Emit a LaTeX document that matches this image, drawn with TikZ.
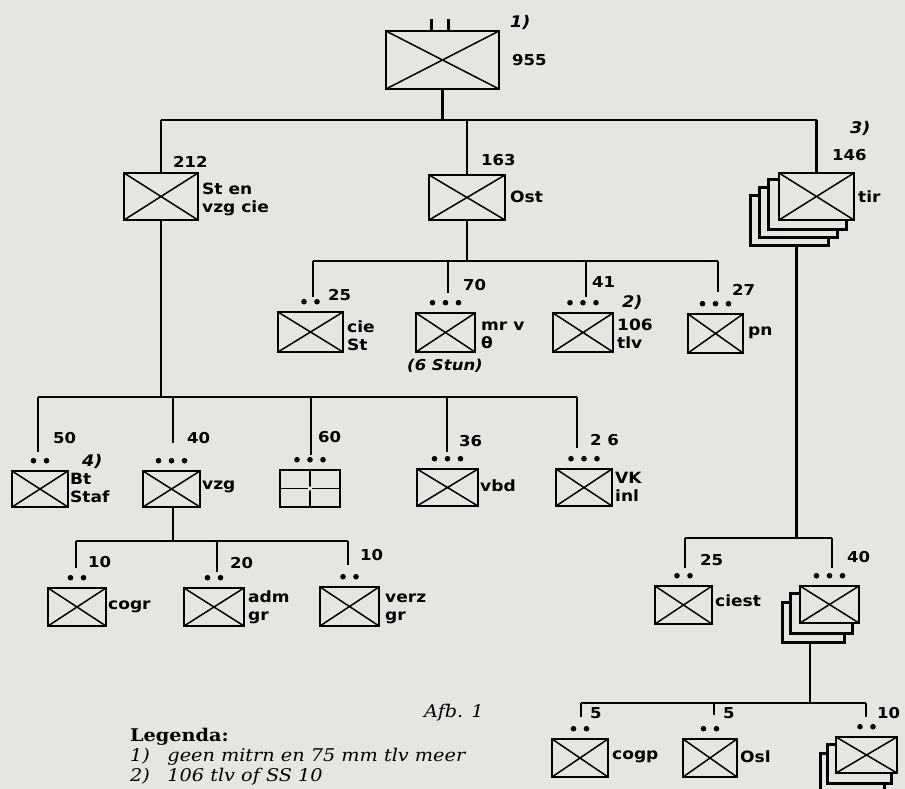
\documentclass[tikz,border=0pt]{standalone}
\usepackage{fontspec}
\newfontfamily\handfont[FakeStretch=1.1]{DejaVu Sans}
\newfontfamily\bookfont[FakeStretch=1.1]{DejaVu Serif}
\usepackage{xcolor}
\definecolor{Paper}{RGB}{229,229,226}
\usetikzlibrary{calc,backgrounds}
\tikzset{
  % unit symbol: box with a cross
  unit/.style 2 args={
    rectangle, draw, line width=2.6pt, fill=Paper,
    minimum width=#1pt, minimum height=#2pt, inner sep=0pt,
    path picture={\draw[line width=1.5pt]
      (path picture bounding box.north west) -- (path picture bounding box.south east)
      (path picture bounding box.south west) -- (path picture bounding box.north east);}
  },
  % box split in four
  plusunit/.style 2 args={
    rectangle, draw, line width=2.6pt, fill=Paper,
    minimum width=#1pt, minimum height=#2pt, inner sep=0pt,
    path picture={\draw[line width=1.6pt]
      (path picture bounding box.north) -- (path picture bounding box.south)
      (path picture bounding box.west) -- (path picture bounding box.east);
      \fill (path picture bounding box.center) circle (2.2pt);}
  },
  % lines
  link/.style={line width=2.3pt},
  % texts
  num/.style={font=\handfont\bfseries\fontsize{15}{15}\selectfont, anchor=west, inner sep=0pt},
  lab/.style={font=\handfont\bfseries\fontsize{15.5}{18}\selectfont, anchor=west, align=left, inner sep=0pt},
  note/.style={font=\handfont\bfseries\fontsize{16}{16}\selectfont\itshape, anchor=west, inner sep=0pt},
  legh/.style={font=\bookfont\bfseries\fontsize{17.5}{20}\selectfont, anchor=west, inner sep=0pt},
  legt/.style={font=\bookfont\itshape\fontsize{17.5}{20}\selectfont, anchor=west, inner sep=0pt},
}
% dots over a unit
\newcommand{\unitdots}[2]{%
  \foreach \k in {1,...,#2}
    \fill ($(#1.north)+({(\k-(#2+1)/2)*13},-9)$) circle (2.8pt);}
% stacked copies behind a unit
\newcommand{\backboxes}[4]{%
  \begin{scope}[on background layer]
    \foreach \k in {#2,...,1}
      \draw[line width=2.6pt, fill=Paper]
        ($(#1.north west)+({\k*(#3)},{\k*(#4)})$) rectangle ($(#1.south east)+({\k*(#3)},{\k*(#4)})$);
  \end{scope}}

\begin{document}
\begin{tikzpicture}[x=1pt, y=-1pt]
  \useasboundingbox (0,0) rectangle (905,789);
  \begin{scope}[on background layer]
    \fill[Paper] (0,0) rectangle (905,789);
  \end{scope}

  % battalion
  \node[unit={113}{58}] (bat) at (442.5,60) {};
  \draw[link] ($(bat.north)+(-11,0)$) -- ++(0,-11);
  \draw[link] ($(bat.north)+(6,0)$) -- ++(0,-11);
  \node[note] (bat-note) at (510,22) {1)};
  \node[num] (bat-num) at (512,60) {955};

  % first level
  \node[unit={74}{47}] (sten) at (161,196.5) {};
  \node[num] (sten-num) at (173,162) {212};
  \node[lab] (sten-lab) at (202,199) {St en\\vzg cie};

  \node[unit={76}{45}] (ost) at (467,197.5) {};
  \node[num] (ost-num) at (481,160) {163};
  \node[lab] (ost-lab) at (510,197) {Ost};

  \node[unit={75}{47}] (tir) at (816.5,196.5) {};
  \backboxes{tir}{3}{-9}{8}
  \node[note] (tir-note) at (850,128) {3)};
  \node[num] (tir-num) at (832,155) {146};
  \node[lab] (tir-lab) at (858,197) {tir};

  \coordinate (bar1) at (0,120);
  \draw[link] (bat.south) -- (bat.south |- bar1);
  \draw[link] (sten.north |- bar1) -- (tir.north |- bar1);
  \draw[link] (sten.north |- bar1) -- (sten.north);
  \draw[link] (ost.north |- bar1) -- (ost.north);
  \draw[link] (tir.north |- bar1) -- (tir.north);

  % under Ost
  \node[unit={65}{40}] (ciest) at (310.5,332) {};
  \unitdots{ciest}{2}
  \node[num] (ciest-num) at (328,295) {25};
  \node[lab] (ciest-lab) at (347,336) {cie\\St};

  \node[unit={59}{39}] (mrv) at (445.5,332.5) {};
  \unitdots{mrv}{3}
  \node[num] (mrv-num) at (463,285) {70};
  \node[lab] (mrv-lab) at (481,335) {mr v\\θ};
  \node[num, anchor=center] (mrv-sub) at (445,366) {\itshape(6 Stun)};

  \node[unit={60}{39}] (tlv) at (583,332.5) {};
  \unitdots{tlv}{3}
  \node[num] (tlv-num) at (592,282) {41};
  \node[note] (tlv-note) at (622,302) {2)};
  \node[lab] (tlv-lab) at (617,334) {106\\tlv};

  \node[unit={55}{39}] (pn) at (715.5,333.5) {};
  \unitdots{pn}{3}
  \node[num] (pn-num) at (732,290) {27};
  \node[lab] (pn-lab) at (748,333) {pn};

  \coordinate (bar2) at (0,261);
  \coordinate (ciest-in) at (313,297);
  \coordinate (mrv-in) at (448,293);
  \coordinate (tlv-in) at (586,297);
  \coordinate (pn-in) at (718,292);
  \draw[link] (ost.south) -- (ost.south |- bar2);
  \draw[link] (ciest-in |- bar2) -- (pn-in |- bar2);
  \foreach \c in {ciest-in,mrv-in,tlv-in,pn-in}
    \draw[link] (\c |- bar2) -- (\c);

  % under St en vzg cie
  \node[unit={56}{36}] (btstaf) at (40,489) {};
  \unitdots{btstaf}{2}
  \node[num] (btstaf-num) at (53,438) {50};
  \node[note] (btstaf-note) at (82,461) {4)};
  \node[lab] (btstaf-lab) at (70,488) {Bt\\Staf};

  \node[unit={57}{36}] (vzg) at (171.5,489) {};
  \unitdots{vzg}{3}
  \node[num] (vzg-num) at (187,438) {40};
  \node[lab] (vzg-lab) at (202,487) {vzg};

  \node[plusunit={60}{37}] (quad) at (310,488.5) {};
  \unitdots{quad}{3}
  \node[num] (quad-num) at (318,437) {60};

  \node[unit={61}{37}] (vbd) at (447.5,487.5) {};
  \unitdots{vbd}{3}
  \node[num] (vbd-num) at (459,441) {36};
  \node[lab] (vbd-lab) at (480,486) {vbd};

  \node[unit={56}{37}] (vkinl) at (584,487.5) {};
  \unitdots{vkinl}{3}
  \node[num] (vkinl-num) at (590,440) {2 6};
  \node[lab] (vkinl-lab) at (615,487) {VK\\inl};

  \coordinate (bar3) at (0,397);
  \coordinate (btstaf-in) at (38,452);
  \coordinate (vzg-in) at (173,443);
  \coordinate (quad-in) at (311,455);
  \coordinate (vbd-in) at (447,452);
  \coordinate (vkinl-in) at (577,448);
  \draw[link] (sten.south) -- (sten.south |- bar3);
  \draw[link] (btstaf-in |- bar3) -- (vkinl-in |- bar3);
  \foreach \c in {btstaf-in,vzg-in,quad-in,vbd-in,vkinl-in}
    \draw[link] (\c |- bar3) -- (\c);

  % under vzg
  \node[unit={58}{38}] (cogr) at (77,607) {};
  \unitdots{cogr}{2}
  \node[num] (cogr-num) at (88,562) {10};
  \node[lab] (cogr-lab) at (108,607) {cogr};

  \node[unit={60}{38}] (admgr) at (214,607) {};
  \unitdots{admgr}{2}
  \node[num] (admgr-num) at (230,563) {20};
  \node[lab] (admgr-lab) at (248,607) {adm\\gr};

  \node[unit={59}{39}] (verzgr) at (349.5,606.5) {};
  \unitdots{verzgr}{2}
  \node[num] (verzgr-num) at (360,555) {10};
  \node[lab] (verzgr-lab) at (385,609) {verz\\gr};

  \coordinate (bar4) at (0,541);
  \coordinate (cogr-in) at (76,568);
  \coordinate (admgr-in) at (217,572);
  \coordinate (verzgr-in) at (348,565);
  \draw[link] ($(vzg.south)+(1.5,0)$) -- (vzg-in |- bar4);
  \draw[link] (cogr-in |- bar4) -- (verzgr-in |- bar4);
  \foreach \c in {cogr-in,admgr-in,verzgr-in}
    \draw[link] (\c |- bar4) -- (\c);

  % under tir
  \node[unit={57}{38}] (cst) at (683.5,605) {};
  \unitdots{cst}{2}
  \node[num] (cst-num) at (700,560) {25};
  \node[lab] (cst-lab) at (715,601) {ciest};

  \node[unit={59}{37}] (tir40) at (829.5,604.5) {};
  \backboxes{tir40}{2}{-8}{9}
  \unitdots{tir40}{3}
  \node[num] (tir40-num) at (847,557) {40};

  \coordinate (bar5) at (0,538);
  \coordinate (tir-out) at ($(tir.south)+(-20,24)$);
  \coordinate (cst-in) at (685,568);
  \coordinate (tir40-in) at (832,568);
  \draw[link] (tir-out) -- (tir-out |- bar5);
  \draw[link] (cst-in |- bar5) -- (tir40-in |- bar5);
  \foreach \c in {cst-in,tir40-in}
    \draw[link] (\c |- bar5) -- (\c);

  % under 40
  \node[unit={56}{38}] (cogp) at (580,758) {};
  \unitdots{cogp}{2}
  \node[num] (cogp-num) at (590,713) {5};
  \node[lab] (cogp-lab) at (612,757) {cogp};

  \node[unit={54}{38}] (osl) at (710,758) {};
  \unitdots{osl}{2}
  \node[num] (osl-num) at (723,713) {5};
  \node[lab] (osl-lab) at (740,757) {Osl};

  \node[unit={61}{36}] (tir10) at (866.5,755) {};
  \backboxes{tir10}{2}{-7}{9}
  \unitdots{tir10}{2}
  \node[num] (tir10-num) at (877,713) {10};

  \coordinate (bar6) at (0,703);
  \coordinate (tir40-out) at ($(tir40.south)+(-19.5,18)$);
  \coordinate (cogp-in) at (581,717);
  \coordinate (osl-in) at (714,715);
  \coordinate (tir10-in) at (866,717);
  \draw[link] (tir40-out) -- (tir40-out |- bar6);
  \draw[link] (cogp-in |- bar6) -- (tir10-in |- bar6);
  \foreach \c in {cogp-in,osl-in,tir10-in}
    \draw[link] (\c |- bar6) -- (\c);

  % caption and legend
  \node[legt] (afb) at (424,713) {Afb. 1};
  \node[legh] (leg-head) at (130,737) {Legenda:};
  \node[legt] (leg-one) at (130,757) {1)\quad geen mitrn en 75 mm tlv meer};
  \node[legt] (leg-two) at (130,777) {2)\quad 106 tlv of SS 10};
\end{tikzpicture}
\end{document}
